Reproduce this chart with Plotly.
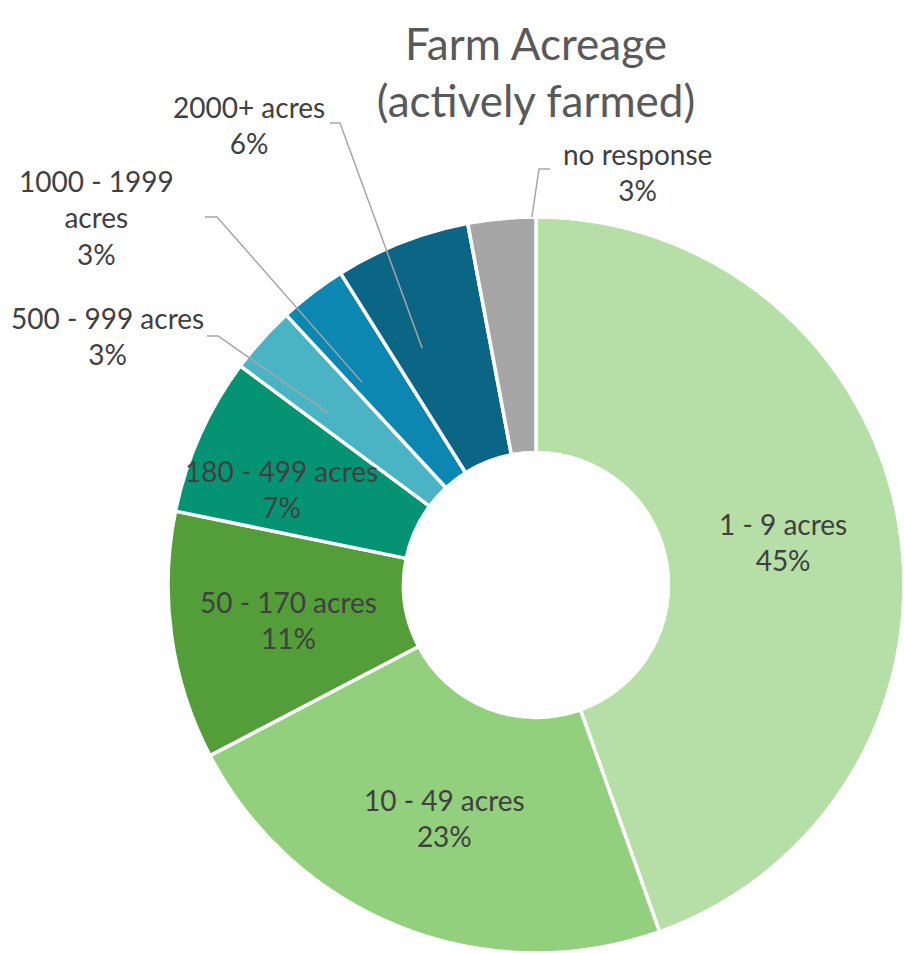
import numpy as np
import plotly.graph_objects as go

# Survey responses: farm size actively farmed (percent of respondents)
categories = ["1 - 9 acres", "10 - 49 acres", "50 - 170 acres", "180 - 499 acres",
              "500 - 999 acres", "1000 - 1999 acres", "2000+ acres", "no response"]
percents = [45, 23, 11, 7, 3, 3, 6, 3]
colors = ["#B5DFA6", "#92D07D", "#549E39", "#049474",
          "#4BB4C4", "#0B87B2", "#0B6685", "#A6A6A6"]

W, H = 904, 953
CX, CY = 536, 585          # pie centre in page pixels
R_OUT = 368
HOLE = 0.36
R_IN = R_OUT * HOLE
LABEL_COLOR = "#404040"
LEADER_COLOR = "#A6A6A6"


def px(x, y):
    """page pixels -> paper coordinates"""
    return x / W, 1 - y / H


def polar(angle_deg, r):
    """clockwise angle from 12 o'clock -> page pixels"""
    a = np.radians(angle_deg)
    return CX + r * np.sin(a), CY - r * np.cos(a)


fig = go.Figure(go.Pie(
    labels=categories,
    values=percents,
    sort=False,
    direction="clockwise",
    rotation=0,
    hole=HOLE,
    marker=dict(colors=colors, line=dict(color="white", width=3.5)),
    textinfo="none",
    hoverinfo="label+value",
    domain=dict(x=[(CX - R_OUT) / W, 1.0], y=[0.0, 2 * R_OUT / H]),
    showlegend=False,
))

# slice angles derived from the values
vals = np.array(percents, dtype=float)
ends = np.cumsum(vals) / vals.sum() * 360
starts = ends - vals / vals.sum() * 360
mids = (starts + ends) / 2

# inside labels for the larger slices (optional pixel nudge)
inside = {0: (0, 0), 1: (0, 0), 2: (0, 0), 3: (-26, 6)}
for i, (nx, ny) in inside.items():
    x, y = polar(mids[i], (R_IN + R_OUT) / 2)
    xp, yp = px(x + nx, y + ny)
    fig.add_annotation(x=xp, y=yp, xref="paper", yref="paper",
                       text=f"{categories[i]}<br>{percents[i]}%",
                       showarrow=False, xanchor="center", yanchor="middle",
                       font=dict(family="Lato", size=28, color=LABEL_COLOR))

# outside labels with elbow leader lines:
# index -> (label centre, elbow start, elbow bend, position within slice, tip radius)
outside = {
    4: ((107, 336), (207, 336), (218, 336), 0.29, 270),
    5: ((96, 218), (205, 217), (217, 217), 0.20, 267),
    6: ((249, 125), (330, 123), (340, 123), 0.30, 263),
    7: ((637, 172), (550, 169), (539, 169), 0.94, R_OUT),
}
wrapped = {5: "1000 - 1999<br>acres"}
for i, (lc, e0, e1, frac, rtip) in outside.items():
    name = wrapped.get(i, categories[i])
    xp, yp = px(*lc)
    fig.add_annotation(x=xp, y=yp, xref="paper", yref="paper",
                       text=f"{name}<br>{percents[i]}%",
                       showarrow=False, xanchor="center", yanchor="middle",
                       font=dict(family="Lato", size=28, color=LABEL_COLOR))
    tip = polar(starts[i] + frac * (ends[i] - starts[i]), rtip)
    pts = [px(*e0), px(*e1), px(*tip)]
    path = "M {} {} L {} {} L {} {}".format(*[c for p in pts for c in p])
    fig.add_shape(type="path", path=path, xref="paper", yref="paper",
                  line=dict(color=LEADER_COLOR, width=1.5))

fig.update_layout(
    width=W, height=H,
    margin=dict(l=0, r=0, t=0, b=0),
    paper_bgcolor="white",
    plot_bgcolor="white",
    title=dict(text="Farm Acreage<br>(actively farmed)",
               x=CX / W, xanchor="center",
               y=1 - 60 / H, yanchor="middle", yref="container",
               font=dict(family="Lato", size=44, color="#595959")),
)

fig.write_html("out.html")
